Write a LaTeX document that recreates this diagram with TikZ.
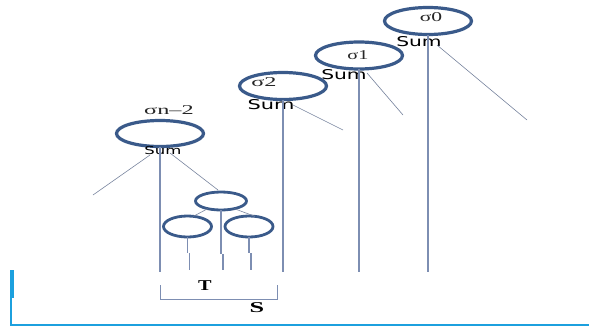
\documentclass[tikz,border=0pt]{standalone}
\usepackage{fontspec}
\setmainfont{Liberation Serif}
\setsansfont{DejaVu Sans}
\usetikzlibrary{shapes.geometric}
\definecolor{ellc}{RGB}{58,90,138}
\definecolor{vline}{RGB}{125,142,178}
\definecolor{dline}{RGB}{120,132,158}
\definecolor{barc}{RGB}{28,160,222}
\newcommand{\sxs}[2]{\scalebox{#1}[1]{#2}}
\begin{document}
\begin{tikzpicture}[x=1pt,y=-1pt,
  bigell/.style={ellipse, draw=ellc, line width=3.2pt, minimum width=87pt, minimum height=27pt, inner sep=0pt, outer sep=0pt},
  smallell/.style={ellipse, draw=ellc, line width=2.8pt, minimum width=48pt, minimum height=21pt, inner sep=0pt, outer sep=0pt},
  vl/.style={draw=vline, line width=1.2pt},
  dl/.style={draw=dline, line width=0.6pt},
  sumlab/.style={font=\sffamily\fontsize{13.5}{13.5}\selectfont, inner sep=0pt, text=black},
  siglab/.style={font=\fontsize{13.5}{13.5}\selectfont, inner sep=0pt, text=black!85},
  brk/.style={draw=vline, line width=1pt},
  bar/.style={draw=barc}
]
\useasboundingbox (0,0) rectangle (589,327);

% big ellipses
\node[bigell] (s0) at (428,21) {};
\node[bigell] (s1) at (359,55.5) {};
\node[bigell] (s2) at (283,86) {};
\node[bigell, minimum height=26pt] (sn) at (160,133.5) {};

% small ellipses
\node[smallell, minimum width=51pt, minimum height=18pt] (t) at (221,201) {};
\node[smallell] (l) at (187.5,226.5) {};
\node[smallell] (r) at (249,226.5) {};

% sigma labels
\node[siglab] (l0) at (431,17.5) {\sxs{1.6}{σ0}};
\node[siglab] (l1) at (358,55) {\sxs{1.5}{σ1}};
\node[siglab] (l2) at (264,82) {\sxs{1.8}{σ2}};
\node[siglab] (ln) at (169,110) {\sxs{1.8}{σn–2}};

% Sum labels
\node[sumlab] (m0) at (419,42) {\sxs{1.5}{Sum}};
\node[sumlab] (m1) at (344,75) {\sxs{1.5}{Sum}};
\node[sumlab] (m2) at (271,105) {\sxs{1.55}{Sum}};
\node[sumlab, font=\sffamily\fontsize{11}{11}\selectfont] (mn) at (163,150) {\sxs{1.5}{Sum}};

% coordinates for free ends
\coordinate (e0) at (428,272);
\coordinate (e1) at (359,272);
\coordinate (e2) at (283,272);
\coordinate (en) at (160,272);
\coordinate (d0a) at (437,45);  \coordinate (d0b) at (527,120);
\coordinate (d1a) at (367,73);  \coordinate (d1b) at (403,115);
\coordinate (d2a) at (293,105); \coordinate (d2b) at (343,130);
\coordinate (dna) at (150,155); \coordinate (dnb) at (93,195);
\coordinate (dnc) at (170,153);
\coordinate (dnd) at (218,190);

% verticals
\draw[vl] (s0.south) -- (e0);
\draw[vl] (s1.south) -- (e1);
\draw[vl] (s2.south) -- (e2);
\draw[vl] (sn.south) -- (en);

% diagonals
\draw[dl] (d0a) -- (d0b);
\draw[dl] (d1a) -- (d1b);
\draw[dl] (d2a) -- (d2b);
\draw[dl] (dna) -- (dnb);
\draw[dl] (dnc) -- (dnd);

% small tree connectors
\draw[dl] (t.-150) -- (l.60);
\draw[dl] (t.-30) -- (r.60);
\coordinate (la) at (187.5,253); \coordinate (lb) at (189.5,253); \coordinate (lc) at (189.5,270);
\coordinate (ta) at (221,254); \coordinate (tb) at (223,254); \coordinate (tc) at (223,270);
\coordinate (ra) at (249,253); \coordinate (rb) at (251,253); \coordinate (rc) at (251,270);
\draw[vl] (l.south) -- (la);
\draw[vl] (lb) -- (lc);
\draw[vl] (t.south) -- (ta);
\draw[vl] (tb) -- (tc);
\draw[vl] (r.south) -- (ra);
\draw[vl] (rb) -- (rc);

% bracket
\coordinate (b1) at (160,285); \coordinate (b2) at (160,299);
\coordinate (b3) at (277,299); \coordinate (b4) at (277,285);
\draw[brk] (b1) -- (b2) -- (b3) -- (b4);
\node[font=\bfseries\fontsize{15}{15}\selectfont, inner sep=0pt] (T) at (205,286) {\sxs{1.35}{T}};
\node[font=\bfseries\fontsize{15}{15}\selectfont, inner sep=0pt] (S) at (257,307.5) {\sxs{1.75}{S}};

% blue frame
\coordinate (c1) at (12,270); \coordinate (c2) at (12,298);
\coordinate (c3) at (12,325); \coordinate (c4) at (589,325);
\draw[bar, line width=4.5pt] (c1) -- (c2);
\draw[bar, line width=2.5pt] (11,298) -- (11,325);
\draw[bar, line width=2pt] (10,325) -- (c4);
\end{tikzpicture}
\end{document}
